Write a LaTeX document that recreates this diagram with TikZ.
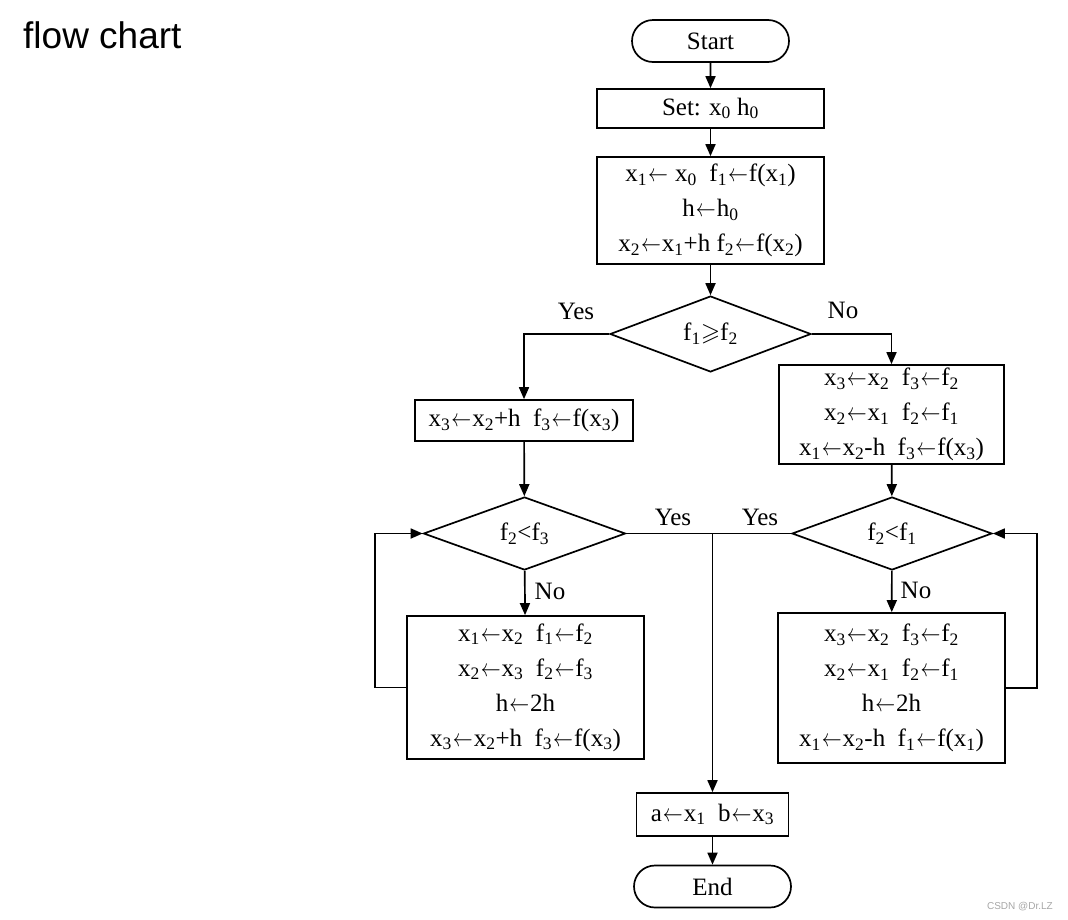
\documentclass[tikz,border=0pt]{standalone}
\usepackage{amssymb}
\usepackage{graphicx}
\usepackage{fontspec}
\setmainfont{Liberation Serif}
\newfontfamily\titlefont{Liberation Sans}
\usetikzlibrary{shapes.geometric,shapes.misc,arrows.meta}
\newcommand\ssub[1]{\textsubscript{#1}}
\newcommand\la{\kern1pt\scalebox{0.8}[1]{$\leftarrow$}\kern1pt}
\begin{document}
\begin{tikzpicture}[x=1pt,y=-1pt,
  every node/.style={font=\fontsize{25}{35}\selectfont, inner sep=0pt, align=center},
  proc/.style={draw, line width=1.7pt, rectangle},
  term/.style={draw, line width=1.7pt, rounded rectangle, minimum width=157pt, minimum height=42pt},
  dec/.style={draw, line width=1.7pt, diamond, minimum width=201pt, minimum height=73pt},
  conn/.style={line width=1.7pt},
  arr/.style={conn, -{Triangle[length=12pt,width=10pt]}},
  lab/.style={font=\fontsize{25}{28}\selectfont}
]
\useasboundingbox (0,0) rectangle (1068,919);
\node[anchor=base west, font=\titlefont\fontsize{37}{40}\selectfont] (title) at (23,48) {flow chart};
\node[anchor=base east, text=black!35, font=\titlefont\fontsize{10}{12}\selectfont] (wm) at (1053,909) {CSDN @Dr.LZ};

\node[term] (start) at (710.5,41) {Start};
\node[proc, minimum width=227pt, minimum height=39pt] (set) at (710.5,108.5) {Set: x\ssub{0} h\ssub{0}};
\node[proc, minimum width=227pt, minimum height=107pt] (init) at (710.5,210.5)
  {x\ssub{1}\la\ x\ssub{0}\enspace f\ssub{1}\la f(x\ssub{1})\\ h\la h\ssub{0}\\ x\ssub{2}\la x\ssub{1}+h f\ssub{2}\la f(x\ssub{2})};
\node[dec] (d1) at (710.5,334) {f\ssub{1}$\geqslant$f\ssub{2}};
\node[proc, minimum width=218pt, minimum height=41pt] (lbox) at (524,420.5)
  {x\ssub{3}\la x\ssub{2}+h\enspace f\ssub{3}\la f(x\ssub{3})};
\node[proc, minimum width=225pt, minimum height=99pt] (rbox) at (891.5,414.5)
  {x\ssub{3}\la x\ssub{2}\enspace f\ssub{3}\la f\ssub{2}\\ x\ssub{2}\la x\ssub{1}\enspace f\ssub{2}\la f\ssub{1}\\ x\ssub{1}\la x\ssub{2}-h\enspace f\ssub{3}\la f(x\ssub{3})};
\node[dec, minimum width=202pt] (d2) at (524.5,533.5) {f\ssub{2}<f\ssub{3}};
\node[dec, minimum width=200pt] (d3) at (892,533.5) {f\ssub{2}<f\ssub{1}};
\node[proc, minimum width=237pt, minimum height=143pt] (lbox2) at (525.5,687.5)
  {x\ssub{1}\la x\ssub{2}\enspace f\ssub{1}\la f\ssub{2}\\ x\ssub{2}\la x\ssub{3}\enspace f\ssub{2}\la f\ssub{3}\\ h\la 2h\\ x\ssub{3}\la x\ssub{2}+h\enspace f\ssub{3}\la f(x\ssub{3})};
\node[proc, minimum width=227pt, minimum height=150pt] (rbox2) at (891.5,688)
  {x\ssub{3}\la x\ssub{2}\enspace f\ssub{3}\la f\ssub{2}\\ x\ssub{2}\la x\ssub{1}\enspace f\ssub{2}\la f\ssub{1}\\ h\la 2h\\ x\ssub{1}\la x\ssub{2}-h\enspace f\ssub{1}\la f(x\ssub{1})};
\node[proc, minimum width=152pt, minimum height=43pt] (ab) at (712.5,814.5)
  {a\la x\ssub{1}\enspace b\la x\ssub{3}};
\node[term] (end) at (712.5,886.5) {End};

\coordinate (m) at (712.5,533.5);

\draw[arr] (start) -- (set);
\draw[arr] (set) -- (init);
\draw[arr] (init) -- (d1);
\draw[arr] (d1.west) -| (lbox.north);
\draw[arr] (d1.east) -| (rbox.north);
\draw[arr] (lbox) -- (d2);
\draw[arr] (rbox) -- (d3);
\draw[arr] (d2) -- (lbox2);
\draw[arr] (d3) -- (rbox2);
\draw[arr] (lbox2.west) -- ++(-31,0) |- (d2.west);
\draw[arr] (rbox2.east) -- ++(31,0) |- (d3.east);
\draw[conn] (d2.east) -- (m);
\draw[conn] (d3.west) -- (m);
\draw[arr] (m) -- (ab);
\draw[arr] (ab) -- (end);

\node[lab] (y1) at (576,311) {Yes};
\node[lab] (n1) at (843,310) {No};
\node[lab] (y2) at (673,517) {Yes};
\node[lab] (y3) at (760,517) {Yes};
\node[lab] (n2) at (550,591) {No};
\node[lab] (n3) at (916,590) {No};
\end{tikzpicture}
\end{document}
